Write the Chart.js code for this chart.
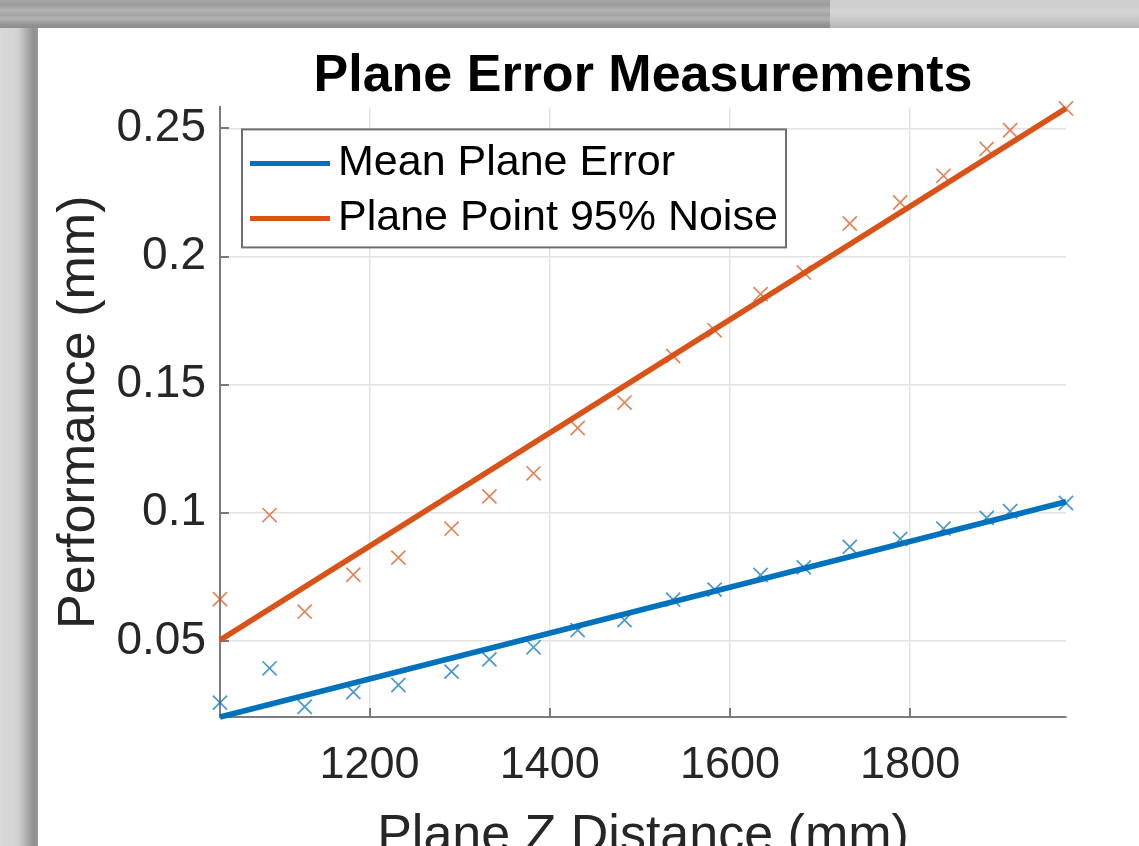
<!DOCTYPE html>
<html>
<head>
<meta charset="utf-8">
<script src="https://cdn.jsdelivr.net/npm/chart.js@4.4.1/dist/chart.umd.min.js"></script>
<style>
html,body{margin:0;padding:0;width:1139px;height:846px;overflow:hidden;background:#cfcfcf;}
#topband{position:absolute;left:0;top:0;width:1139px;height:28px;
  background:linear-gradient(to bottom,#a6a6a6 0,#9c9c9c 5px,#b4b4b4 10px,#a4a4a4 15px,#b2b2b2 19px,#959595 24px,#8c8c8c 28px);}
#topright{position:absolute;left:830px;top:0;width:309px;height:28px;
  background:linear-gradient(to bottom,#cdcdcd 0,#d4d4d4 12px,#c4c4c4 22px,#b5b5b5 28px);}
#leftband{position:absolute;left:0;top:28px;width:38px;height:818px;
  background:linear-gradient(to right,#d8d8d8 0,#d2d2d2 18px,#b0b0b0 26px,#8f8f8f 34px,#9a9a9a 38px);}
#panel{position:absolute;left:38px;top:28px;width:1101px;height:860px;background:#fff;}
canvas{display:block;}
</style>
</head>
<body>
<div id="topband"></div>
<div id="topright"></div>
<div id="leftband"></div>
<div id="panel"><canvas id="c" width="1101" height="860"></canvas></div>
<script>
// ---- data ----
const zDistance = [1034, 1089, 1128, 1182, 1232, 1291, 1333, 1382, 1431, 1483, 1537, 1583, 1634, 1682, 1733, 1789, 1837, 1885, 1911, 1973];
const meanPlaneError = [0.0259, 0.0393, 0.0243, 0.0300, 0.0328, 0.0380, 0.0428, 0.0475, 0.0542, 0.0581, 0.0661, 0.0700, 0.0757, 0.0787, 0.0867, 0.0898, 0.0938, 0.0980, 0.1006, 0.1038];
const pointNoise95 = [0.0663, 0.0991, 0.0614, 0.0758, 0.0825, 0.0938, 0.1064, 0.1154, 0.1331, 0.1430, 0.1612, 0.1712, 0.1853, 0.1938, 0.2129, 0.2211, 0.2315, 0.2420, 0.2493, 0.2578];
const fitZ = [1034, 1973];
const meanFit = [0.0203, 0.1043];
const noiseFit = [0.0503, 0.2578];
const seriesLabels = ['Mean Plane Error', 'Plane Point 95% Noise'];
const xTicks = [1200, 1400, 1600, 1800];
const xTickLabels = ['1200', '1400', '1600', '1800'];
const yTicks = [0.05, 0.1, 0.15, 0.2, 0.25];
const yTickLabels = ['0.05', '0.1', '0.15', '0.2', '0.25'];
const xRange = [1034, 1973];
const yRange = [0.0203, 0.2582];

const BLUE = '#0072BD', ORANGE = '#D95319';
const FONT = '"Liberation Sans", Arial, Helvetica, sans-serif';

const pts = (xs, ys) => xs.map((x, i) => ({x: x, y: ys[i]}));

const inwardTicks = {
  id: 'inwardTicks',
  beforeDatasetsDraw(chart) {
    const {ctx, chartArea: a, scales: {x, y}} = chart;
    ctx.save();
    ctx.strokeStyle = '#7a7a7a';
    ctx.lineWidth = 2;
    x.ticks.forEach(t => {
      const px = Math.round(x.getPixelForValue(t.value));
      ctx.beginPath(); ctx.moveTo(px, a.bottom); ctx.lineTo(px, a.bottom - 9); ctx.stroke();
    });
    y.ticks.forEach(t => {
      const py = Math.round(y.getPixelForValue(t.value));
      ctx.beginPath(); ctx.moveTo(a.left, py); ctx.lineTo(a.left + 9, py); ctx.stroke();
    });
    ctx.restore();
  }
};

const legendBox = {
  id: 'legendBox',
  afterDraw(chart) {
    const {ctx, chartArea: a} = chart;
    const bx = a.left + 22, by = a.top + 22, bw = 544, bh = 118;
    ctx.save();
    ctx.fillStyle = '#ffffff';
    ctx.fillRect(bx, by, bw, bh);
    ctx.strokeStyle = '#6e6e6e';
    ctx.lineWidth = 2;
    ctx.strokeRect(bx, by, bw, bh);
    const entries = chart.data.datasets.filter(d => d.inLegend);
    entries.forEach((d, i) => {
      const yy = by + 34 + i * 55;
      ctx.strokeStyle = d.borderColor;
      ctx.lineWidth = 5;
      ctx.beginPath(); ctx.moveTo(bx + 8, yy); ctx.lineTo(bx + 88, yy); ctx.stroke();
      ctx.fillStyle = '#000';
      ctx.font = '43px ' + FONT;
      ctx.textAlign = 'left';
      ctx.textBaseline = 'middle';
      ctx.fillText(d.label, bx + 96, yy);
    });
    ctx.restore();
  }
};

new Chart(document.getElementById('c'), {
  type: 'scatter',
  data: {
    datasets: [
      {label: seriesLabels[0] + ' data', data: pts(zDistance, meanPlaneError), showLine: false,
       pointStyle: 'crossRot', pointRadius: 10, pointBorderWidth: 1.7, borderColor: 'rgba(0,114,189,0.72)',
       backgroundColor: 'rgba(0,114,189,0.72)', clip: false, order: 0},
      {label: seriesLabels[1] + ' data', data: pts(zDistance, pointNoise95), showLine: false,
       pointStyle: 'crossRot', pointRadius: 10, pointBorderWidth: 1.7, borderColor: 'rgba(217,83,25,0.72)',
       backgroundColor: 'rgba(217,83,25,0.72)', clip: false, order: 0},
      {label: seriesLabels[0], inLegend: true, data: pts(fitZ, meanFit), showLine: true, pointRadius: 0,
       borderColor: BLUE, backgroundColor: BLUE, borderWidth: 5.5, order: 1, clip: false},
      {label: seriesLabels[1], inLegend: true, data: pts(fitZ, noiseFit), showLine: true, pointRadius: 0,
       borderColor: ORANGE, backgroundColor: ORANGE, borderWidth: 5.5, order: 1, clip: false}
    ]
  },
  options: {
    responsive: false,
    animation: false,
    devicePixelRatio: 1,
    layout: {padding: {left: 0, right: 73, top: 0, bottom: 0}},
    plugins: {
      legend: {display: false},
      tooltip: {enabled: false},
      title: {
        display: true,
        text: 'Plane Error Measurements',
        fullSize: false,
        color: '#000',
        font: {family: FONT, size: 52, weight: 'bold', lineHeight: 1.2},
        padding: {top: 17, bottom: 0}
      }
    },
    scales: {
      x: {
        type: 'linear',
        min: xRange[0], max: xRange[1],
        afterBuildTicks: s => { s.ticks = xTicks.map(v => ({value: v})); },
        afterFit: s => { s.height = 171; },
        ticks: {
          color: '#262626', padding: 22, maxRotation: 0, autoSkip: false,
          font: {family: FONT, size: 45},
          callback: v => xTickLabels[xTicks.indexOf(v)]
        },
        grid: {color: '#e3e3e3', lineWidth: 1.5, drawTicks: false},
        border: {display: true, color: '#7d7d7d', width: 2},
        title: {display: true, text: 'Plane Z Distance (mm)', color: '#262626',
          font: {family: FONT, size: 52, lineHeight: 1.2}, padding: {top: 0, bottom: 20}}
      },
      y: {
        type: 'linear',
        min: yRange[0], max: yRange[1],
        afterBuildTicks: s => { s.ticks = yTicks.map(v => ({value: v})); },
        afterFit: s => { s.width = 182; },
        ticks: {
          color: '#262626', padding: 14, autoSkip: false,
          font: {family: FONT, size: 46},
          callback: v => yTickLabels[yTicks.indexOf(v)]
        },
        grid: {color: '#e3e3e3', lineWidth: 1.5, drawTicks: false},
        border: {display: true, color: '#7d7d7d', width: 2},
        title: {display: true, text: 'Performance (mm)', color: '#262626',
          font: {family: FONT, size: 52, lineHeight: 1.2}, padding: {top: 10, bottom: 0}}
      }
    }
  },
  plugins: [inwardTicks, legendBox]
});
</script>
</body>
</html>
